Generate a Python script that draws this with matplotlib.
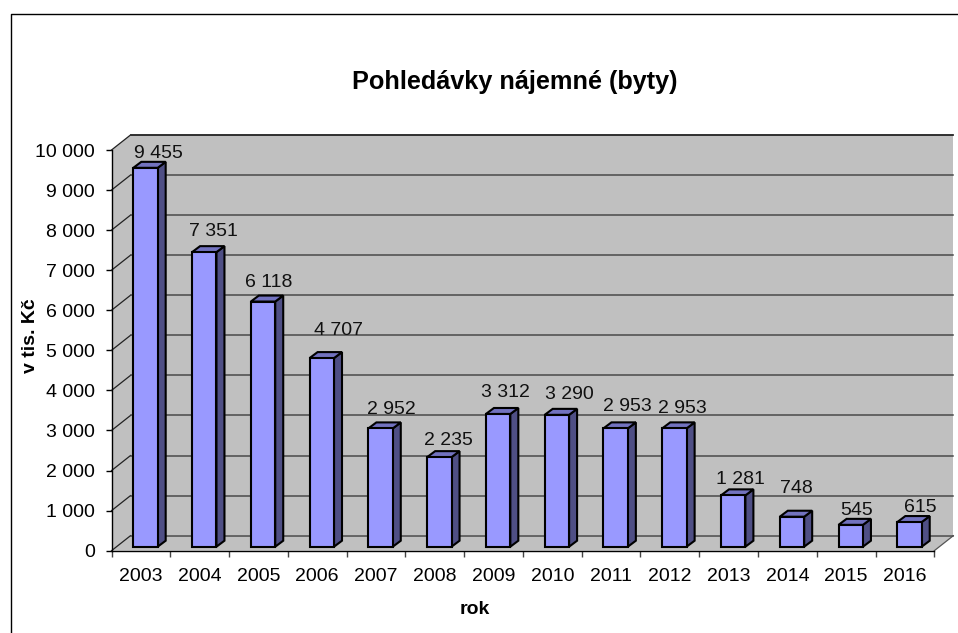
import matplotlib
matplotlib.use('Agg')
import matplotlib.pyplot as plt
from matplotlib.lines import Line2D
from matplotlib.patches import Polygon

plt.rcParams['font.family'] = ['Liberation Sans', 'DejaVu Sans']

# Data
years = ['2003', '2004', '2005', '2006', '2007', '2008', '2009',
         '2010', '2011', '2012', '2013', '2014', '2015', '2016']
values = [9455, 7351, 6118, 4707, 2952, 2235, 3312,
          3290, 2953, 2953, 1281, 748, 545, 615]
value_ticks = [0, 1000, 2000, 3000, 4000, 5000, 6000, 7000, 8000, 9000, 10000]

# label shifts in pixels, the labels sit unevenly in the original
label_dx = [18, 13.3, 10.6, 20.8, 15, 13.2, 11.5, 16.7, 16, 12.2, 11.4, 9.4, 10.8, 15]
label_dy = [13.8, 20.2, 18.5, 27.1, 18.4, 16.1, 21, 19.9, 21.4, 19.4, 15.4, 28, 13.9, 14]

W, H = 958, 633
x0, x1, y0, y1 = 111.5, 934.3, 550.7, 150.0   # front plane in pixels
depth_x, depth_y = 19, 15                     # wall depth in pixels
n = len(years)
px_x = (x1 - x0) / n
px_y = (y0 - y1) / 10000

# pixel lengths -> data lengths
wall_dx = depth_x / px_x
wall_dy = depth_y / px_y
bar_dx = 8 / px_x
bar_dy = 6 / px_y
bar_base = 4 / px_y
bar_w = 24.4 / px_x

WALL = '#c0c0c0'
FRONT = '#9999ff'
SIDE = '#4f4f85'
TOP = '#7272bf'

fig = plt.figure(figsize=(W / 100, H / 100), dpi=100)
ax = fig.add_axes([x0 / W, (H - y0) / H, (x1 + depth_x - x0) / W, (y0 - y1 + depth_y) / H])
ax.set_xlim(0, n + wall_dx)
ax.set_ylim(0, 10000 + wall_dy)
ax.patch.set_visible(False)

# Walls and floor
ax.add_patch(Polygon([(0, 0), (0, 10000), (wall_dx, 10000 + wall_dy),
                      (n + wall_dx, 10000 + wall_dy), (n + wall_dx, wall_dy), (wall_dx, wall_dy)],
                     fc=WALL, ec='none', zorder=1))
ax.add_patch(Polygon([(0, 0), (n, 0), (n + wall_dx, wall_dy), (wall_dx, wall_dy)],
                     fc=WALL, ec='none', zorder=1))
ax.plot([n, n + wall_dx], [0, wall_dy], color='#555555', lw=0.9, zorder=2, clip_on=False)

# Gridlines
for v in value_ticks:
    ax.plot([0, wall_dx], [v, v + wall_dy], color='#222222', lw=0.9, zorder=2, clip_on=False)
    ax.plot([wall_dx, n + wall_dx], [v + wall_dy, v + wall_dy],
            color='#4a4a4a', lw=1.1, zorder=2, clip_on=False)
ax.plot([wall_dx, n + wall_dx], [10000 + wall_dy, 10000 + wall_dy],
        color='#222222', lw=1.1, zorder=2, clip_on=False)

# Bars
centers = [i + 0.5 for i in range(n)]
bar_x = [c + 4.6 / px_x for c in centers]
ax.bar(bar_x, values, width=bar_w, bottom=bar_base, color=FRONT, edgecolor='black', lw=1.5, zorder=4)
for c, v in zip(bar_x, values):
    l = c - bar_w / 2
    r = c + bar_w / 2
    top = v + bar_base
    ax.add_patch(Polygon([(r, bar_base), (r + bar_dx, bar_base + bar_dy), (r + bar_dx, top + bar_dy), (r, top)],
                         fc=SIDE, ec='black', lw=1.5, zorder=3))
    ax.add_patch(Polygon([(l, top), (l + bar_dx, top + bar_dy), (r + bar_dx, top + bar_dy), (r, top)],
                         fc=TOP, ec='black', lw=1.5, zorder=3))

# Value labels
for c, v, dx, dy in zip(centers, values, label_dx, label_dy):
    label = f'{v:,}'.replace(',', ' ')
    ax.annotate(label, (c, v), xytext=(dx, dy), textcoords='offset pixels',
                ha='center', va='baseline', fontsize=14, color='#111111', zorder=6)

# Axes
for s in ['top', 'right']:
    ax.spines[s].set_visible(False)
ax.spines['left'].set_bounds(0, 10000)
ax.spines['bottom'].set_bounds(0, n)
ax.spines['left'].set_zorder(5)
ax.spines['bottom'].set_zorder(5)
ax.spines['left'].set_linewidth(1.0)
ax.spines['bottom'].set_linewidth(1.0)

ax.set_yticks(value_ticks)
ax.set_yticklabels([f'{v:,}'.replace(',', ' ') for v in value_ticks], fontsize=14)
ax.set_xticks(range(n + 1))
ax.set_xticklabels([])
ax.set_xticks(centers, minor=True)
ax.set_xticklabels(years, minor=True, fontsize=14)
ax.tick_params(axis='y', length=4.3, width=1.0, pad=7.5)
ax.tick_params(axis='x', which='major', length=4.3, width=1.0, color='#444444')
ax.tick_params(axis='x', which='minor', length=0, pad=12.5)

# Title and axis names
fig.text(515 / W, 1 - 89 / H, 'Pohledávky nájemné (byty)', ha='center', va='baseline',
         fontsize=18.2, fontweight='bold')
fig.text(475 / W, 1 - 614 / H, 'rok', ha='center', va='baseline', fontsize=14, fontweight='bold')
fig.text(35 / W, 1 - 335.5 / H, 'v tis. Kč', ha='center', va='baseline', rotation=90,
         rotation_mode='anchor', fontsize=14, fontweight='bold')

# Border of the chart area
fig.add_artist(Line2D([11 / W, 11 / W, 1], [0, 1 - 14 / H, 1 - 14 / H], color='black', lw=1.0))

fig.savefig('out.png', dpi=100)
